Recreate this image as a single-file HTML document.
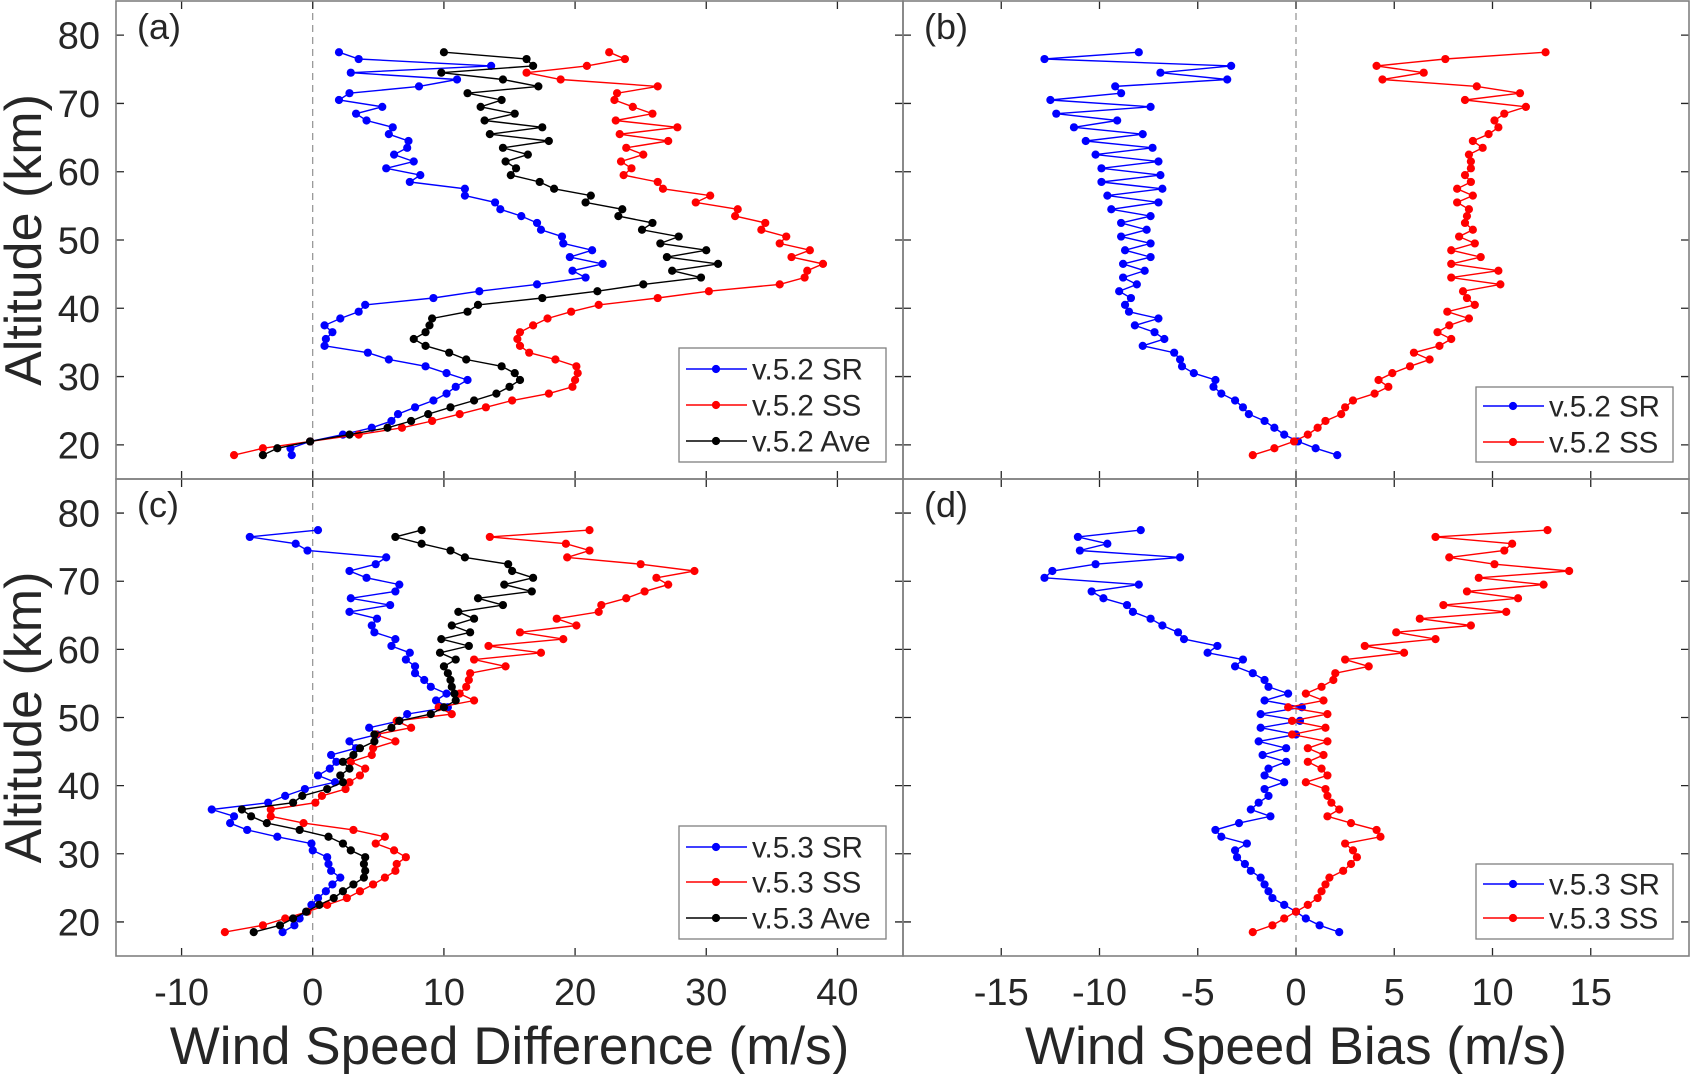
<!DOCTYPE html>
<html><head><meta charset="utf-8">
<style>
html,body{margin:0;padding:0;background:#fff;}
svg{display:block;font-family:"Liberation Sans",Arial,sans-serif;}
</style></head>
<body>
<svg id="fig" width="1691" height="1074" viewBox="0 0 1691 1074" xmlns="http://www.w3.org/2000/svg"></svg>
<script>
const altitudes = [77.5,76.5,75.5,74.5,73.5,72.5,71.5,70.5,69.5,68.5,67.5,66.5,65.5,64.5,63.5,62.5,61.5,60.5,59.5,58.5,57.5,56.5,55.5,54.5,53.5,52.5,51.5,50.5,49.5,48.5,47.5,46.5,45.5,44.5,43.5,42.5,41.5,40.5,39.5,38.5,37.5,36.5,35.5,34.5,33.5,32.5,31.5,30.5,29.5,28.5,27.5,26.5,25.5,24.5,23.5,22.5,21.5,20.5,19.5,18.5];
const yTicks = [20,30,40,50,60,70,80];
const xTicksDiff = [-10,0,10,20,30,40];
const xTicksBias = [-15,-10,-5,0,5,10,15];

const a_SR = [2.0,3.5,13.6,2.9,11.0,8.1,2.8,2.0,5.3,3.3,4.1,6.1,5.8,7.3,7.2,6.2,7.7,5.6,8.2,7.4,11.6,11.6,13.9,14.3,15.9,17.1,17.4,19.0,19.1,21.3,19.6,22.1,19.8,20.8,17.1,12.7,9.2,4.0,3.5,2.1,0.9,1.5,1.0,0.9,4.2,5.8,8.6,10.2,11.8,10.9,10.2,9.2,7.8,6.5,6.0,4.5,2.3,-0.2,-1.7,-1.6];
const a_SS = [22.6,23.8,20.9,16.3,18.9,26.3,23.2,23.0,24.4,25.9,23.1,27.8,23.4,27.1,23.9,25.2,23.5,24.3,23.7,26.3,26.7,30.3,29.2,32.4,32.2,34.5,34.2,36.1,35.6,37.9,36.5,38.9,37.7,37.5,35.6,30.2,26.3,21.8,19.7,17.9,16.8,15.8,15.6,15.8,16.5,18.5,20.1,20.2,20.0,19.8,18.0,15.2,13.2,11.2,9.1,6.8,3.5,-0.2,-3.8,-6.0];
const a_Ave = [10.0,16.3,16.8,9.8,14.5,17.2,11.8,14.4,12.8,15.4,13.1,17.5,13.5,18.0,14.5,16.4,14.7,15.5,15.1,17.3,18.4,21.2,20.8,23.6,23.3,25.9,25.1,27.9,26.5,30.0,27.0,30.9,27.4,29.6,25.2,21.7,17.5,12.6,11.8,9.1,8.9,8.6,7.7,8.6,10.4,11.7,14.4,15.4,15.8,15.0,14.0,12.3,10.5,8.8,7.5,5.7,2.8,-0.2,-2.7,-3.8];

const b_SR = [-8.0,-12.8,-3.3,-6.9,-3.5,-9.2,-8.9,-12.5,-7.4,-12.2,-9.1,-11.3,-7.8,-10.7,-7.3,-10.2,-7.0,-9.9,-6.9,-9.9,-6.8,-9.6,-7.0,-9.4,-7.4,-8.9,-7.6,-8.9,-7.4,-8.7,-7.4,-8.8,-7.7,-8.8,-8.1,-9.0,-8.4,-8.7,-8.5,-7.0,-8.2,-7.2,-6.7,-7.8,-6.2,-5.9,-5.8,-5.2,-4.1,-4.2,-3.8,-3.1,-2.7,-2.4,-1.6,-1.1,-0.6,0.1,1.0,2.1];
const b_SS = [12.7,7.6,4.1,6.5,4.4,9.2,11.4,8.6,11.7,10.6,10.1,10.3,9.8,9.0,9.5,8.8,8.9,8.9,8.6,8.9,8.2,9.0,8.2,8.8,8.7,8.6,9.0,8.3,9.1,7.9,9.4,7.9,10.3,7.9,10.4,8.5,8.7,9.1,7.7,8.8,7.8,7.2,7.9,7.3,6.0,6.8,5.8,4.9,4.2,4.7,4.0,2.9,2.5,2.3,1.5,1.1,0.6,-0.1,-1.1,-2.2];

const c_SR = [0.4,-4.8,-1.3,-0.4,5.6,4.8,2.8,4.1,6.6,6.3,2.9,5.9,2.8,4.9,4.5,4.7,6.3,6.0,7.4,7.1,7.8,7.8,8.5,9.0,10.2,9.4,10.3,7.2,6.6,4.3,4.9,2.8,3.3,1.4,1.8,1.3,0.4,1.7,-0.6,-2.1,-3.4,-7.7,-6.0,-6.3,-5.0,-2.7,-0.1,0.0,1.1,1.2,1.4,2.1,1.5,1.0,0.4,-0.1,-0.5,-1.0,-1.4,-2.3];
const c_SS = [21.1,13.5,19.3,21.1,19.4,25.0,29.1,26.2,27.1,25.3,23.9,22.0,21.8,18.6,20.1,15.8,19.1,13.4,17.4,12.3,14.7,12.0,11.9,11.7,11.2,12.3,9.6,10.6,6.4,7.5,4.8,6.3,4.6,4.5,2.9,4.0,3.6,2.8,2.5,0.7,0.2,-3.2,-3.2,-0.7,3.1,5.5,4.8,6.2,7.1,6.4,6.3,5.5,4.6,3.6,2.6,1.1,-0.4,-2.1,-3.8,-6.7];
const c_Ave = [8.3,6.3,8.3,10.5,11.6,14.9,15.2,16.8,14.6,16.7,12.6,14.5,11.1,12.3,10.6,12.0,9.8,11.9,9.7,10.9,10.0,10.3,10.5,10.6,10.8,10.9,10.0,9.0,6.6,6.0,4.7,4.7,3.6,3.1,2.3,2.8,2.1,2.3,1.1,-0.8,-1.5,-5.4,-4.7,-3.5,-1.0,1.2,2.3,2.9,4.0,3.9,4.0,3.9,3.1,2.3,1.6,0.5,-0.5,-1.5,-2.5,-4.5];

const d_SR = [-7.9,-11.1,-9.6,-11.0,-5.9,-10.2,-12.4,-12.8,-8.0,-10.4,-9.8,-8.6,-8.3,-7.4,-6.8,-6.0,-5.7,-4.0,-4.5,-2.7,-3.1,-2.2,-1.6,-1.4,-0.4,-1.6,0.3,-1.8,0.2,-1.8,0.0,-1.9,-0.5,-1.7,-0.5,-1.4,-1.6,-0.6,-1.6,-1.4,-1.9,-2.3,-1.3,-2.9,-4.1,-3.8,-2.5,-3.1,-3.0,-2.6,-2.3,-1.8,-1.6,-1.4,-1.2,-0.6,0.0,0.5,1.2,2.2];
const d_SS = [12.8,7.1,11.0,10.6,7.8,10.1,13.9,9.3,12.6,8.7,11.3,7.5,10.7,6.3,8.9,5.1,7.1,3.5,5.5,2.5,3.7,2.0,1.9,1.3,0.5,1.4,-0.4,1.6,-0.2,1.5,-0.2,1.6,0.6,1.4,0.6,1.3,1.6,0.5,1.5,1.6,1.8,2.2,1.6,2.8,4.1,4.3,2.5,2.9,3.1,2.8,2.4,1.7,1.5,1.3,1.1,0.6,0.0,-0.6,-1.2,-2.2];

const NS='http://www.w3.org/2000/svg';
const svg=document.getElementById('fig');
const TXT='#262626';
function mk(tag,attrs,parent){const e=document.createElementNS(NS,tag);for(const k in attrs)e.setAttribute(k,attrs[k]);(parent||svg).appendChild(e);return e;}

const panels=[
 {id:'a',x0:116,x1:903,y0:1,y1:479,xmin:-15,xmax:45,xt:xTicksDiff,series:[[a_SR,'#0000ff','v.5.2 SR'],[a_SS,'#ff0000','v.5.2 SS'],[a_Ave,'#000000','v.5.2 Ave']],yl:true,xl:false,leg:{x:679,y:348,w:207,h:114,ys:[369,405,441]}},
 {id:'b',x0:903,x1:1689,y0:1,y1:479,xmin:-20,xmax:20,xt:xTicksBias,series:[[b_SR,'#0000ff','v.5.2 SR'],[b_SS,'#ff0000','v.5.2 SS']],yl:false,xl:false,leg:{x:1476,y:387,w:197,h:75,ys:[406,442]}},
 {id:'c',x0:116,x1:903,y0:479,y1:956,xmin:-15,xmax:45,xt:xTicksDiff,series:[[c_SR,'#0000ff','v.5.3 SR'],[c_SS,'#ff0000','v.5.3 SS'],[c_Ave,'#000000','v.5.3 Ave']],yl:true,xl:true,xtitle:'Wind Speed Difference (m/s)',leg:{x:679,y:826,w:207,h:113,ys:[847,882,918]}},
 {id:'d',x0:903,x1:1689,y0:479,y1:956,xmin:-20,xmax:20,xt:xTicksBias,series:[[d_SR,'#0000ff','v.5.3 SR'],[d_SS,'#ff0000','v.5.3 SS']],yl:false,xl:true,xtitle:'Wind Speed Bias (m/s)',leg:{x:1476,y:864,w:197,h:75,ys:[884,918]}}
];
const YMIN=15,YMAX=85;

panels.forEach(p=>{
  const g=mk('g',{});
  
  
  const sx=v=>p.x0+(v-p.xmin)/(p.xmax-p.xmin)*(p.x1-p.x0);
  const sy=v=>p.y1-(v-YMIN)/(YMAX-YMIN)*(p.y1-p.y0);
  const z=mk('line',{x1:sx(0),x2:sx(0),y1:p.y0,y2:p.y1,stroke:'#7a7a7a','stroke-width':1,'stroke-dasharray':'7,5'},g);
  
  
  p.xt.forEach(t=>{
    const X=sx(t);
    const tk=mk('path',{d:`M${X},${p.y1}v-8M${X},${p.y0}v8`,stroke:TXT,'stroke-width':1.3},g);
    
    
    if(p.xl){
      const tl=mk('text',{x:X,y:1005,'text-anchor':'middle','font-size':38,fill:TXT},g);
      tl.textContent=String(t);
      
      
    }
  });
  yTicks.forEach(t=>{
    const Y=sy(t);
    const tk=mk('path',{d:`M${p.x0},${Y}h8M${p.x1},${Y}h-8`,stroke:TXT,'stroke-width':1.3},g);
    
    
    if(p.yl){
      const tl=mk('text',{x:100,y:Y+13.5,'text-anchor':'end','font-size':38,fill:TXT},g);
      tl.textContent=String(t);
      
      
    }
  });
  const fr=mk('rect',{x:p.x0,y:p.y0,width:p.x1-p.x0,height:p.y1-p.y0,fill:'none',stroke:'#808080','stroke-width':1.6},g);
  
  
  p.series.forEach(s=>{
    const vals=s[0],col=s[1];
    const sg=mk('g',{},g);
    
    
    const pts=vals.map((v,i)=>sx(v).toFixed(1)+','+sy(altitudes[i]).toFixed(1)).join(' ');
    const pl=mk('polyline',{points:pts,fill:'none',stroke:col,'stroke-width':1.4},sg);
    
    
    vals.forEach((v,i)=>{
      const c=mk('circle',{cx:sx(v),cy:sy(altitudes[i]),r:4.1,fill:col},sg);
      
      
    });
  });
  const pl=mk('text',{x:p.x0+21,y:p.y0+38,'font-size':36,fill:TXT},g);
  pl.textContent='('+p.id+')';
  
  
  const L=p.leg;
  const lg=mk('g',{},g);
  
  
  mk('rect',{x:L.x,y:L.y,width:L.w,height:L.h,fill:'#fff',stroke:'#808080','stroke-width':1.3},lg);
  p.series.forEach((s,i)=>{
    const e=mk('g',{},lg);
    
    
    const Y=L.ys[i];
    mk('line',{x1:L.x+7,x2:L.x+68,y1:Y,y2:Y,stroke:s[1],'stroke-width':1.4},e);
    mk('circle',{cx:L.x+37,cy:Y,r:4.1,fill:s[1]},e);
    const t=mk('text',{x:L.x+73,y:Y+10.5,'font-size':29.5,fill:TXT},e);
    t.textContent=s[2];
  });
  if(p.xtitle){
    const xt=mk('text',{x:(p.x0+p.x1)/2,y:1064,'text-anchor':'middle','font-size':53,fill:TXT},g);
    xt.textContent=p.xtitle;
    
    
  }
  if(p.yl){
    const cy=(p.y0+p.y1)/2;
    const yt=mk('text',{x:0,y:0,'text-anchor':'middle','font-size':52,fill:TXT,transform:`translate(41,${cy}) rotate(-90)`},g);
    yt.textContent='Altitude (km)';
    
    
  }
});
</script>
</body></html>
